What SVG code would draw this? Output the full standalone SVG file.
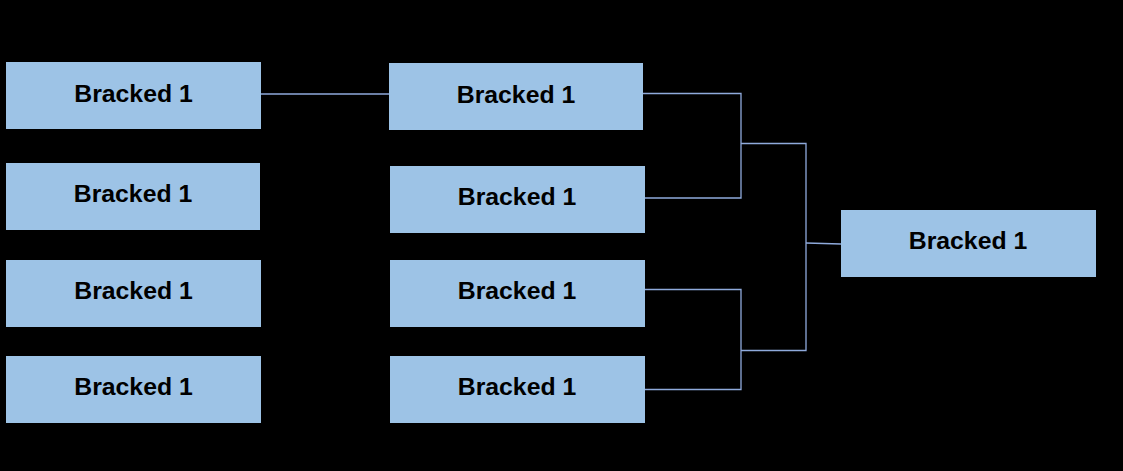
<svg xmlns="http://www.w3.org/2000/svg" width="1123" height="471" viewBox="0 0 1123 471">
<style>
.box{fill:#9DC3E6;}
.lbl{font-family:"Liberation Sans",Arial,sans-serif;font-weight:bold;font-size:24.8px;fill:#000;text-anchor:middle;dominant-baseline:central;}
.con{fill:none;stroke:#8FAADC;stroke-width:1.3;}
</style>
<rect width="1123" height="471" fill="#000"/>
<g id="connectors">
<path class="con" d="M261,94 H389"/>
<path class="con" d="M643,93.5 H741 V198 H645"/>
<path class="con" d="M645,289.5 H741 V389.5 H645"/>
<path class="con" d="M741,143.5 H806 V350.5 H741"/>
<path class="con" d="M806,243 L841,244"/>
</g>
<g id="n1"><rect class="box" x="6" y="62" width="255" height="67"/><text class="lbl" x="133.5" y="93">Bracked 1</text></g>
<g id="n2"><rect class="box" x="6" y="163" width="254" height="67"/><text class="lbl" x="133" y="193">Bracked 1</text></g>
<g id="n3"><rect class="box" x="6" y="260" width="255" height="67"/><text class="lbl" x="133.5" y="290">Bracked 1</text></g>
<g id="n4"><rect class="box" x="6" y="356" width="255" height="67"/><text class="lbl" x="133.5" y="386">Bracked 1</text></g>
<g id="n5"><rect class="box" x="389" y="63" width="254" height="67"/><text class="lbl" x="516" y="94">Bracked 1</text></g>
<g id="n6"><rect class="box" x="390" y="166" width="255" height="67"/><text class="lbl" x="517" y="196">Bracked 1</text></g>
<g id="n7"><rect class="box" x="390" y="260" width="255" height="67"/><text class="lbl" x="517" y="290">Bracked 1</text></g>
<g id="n8"><rect class="box" x="390" y="356" width="255" height="67"/><text class="lbl" x="517" y="386">Bracked 1</text></g>
<g id="n9"><rect class="box" x="841" y="210" width="255" height="67"/><text class="lbl" x="968" y="240">Bracked 1</text></g>
</svg>
